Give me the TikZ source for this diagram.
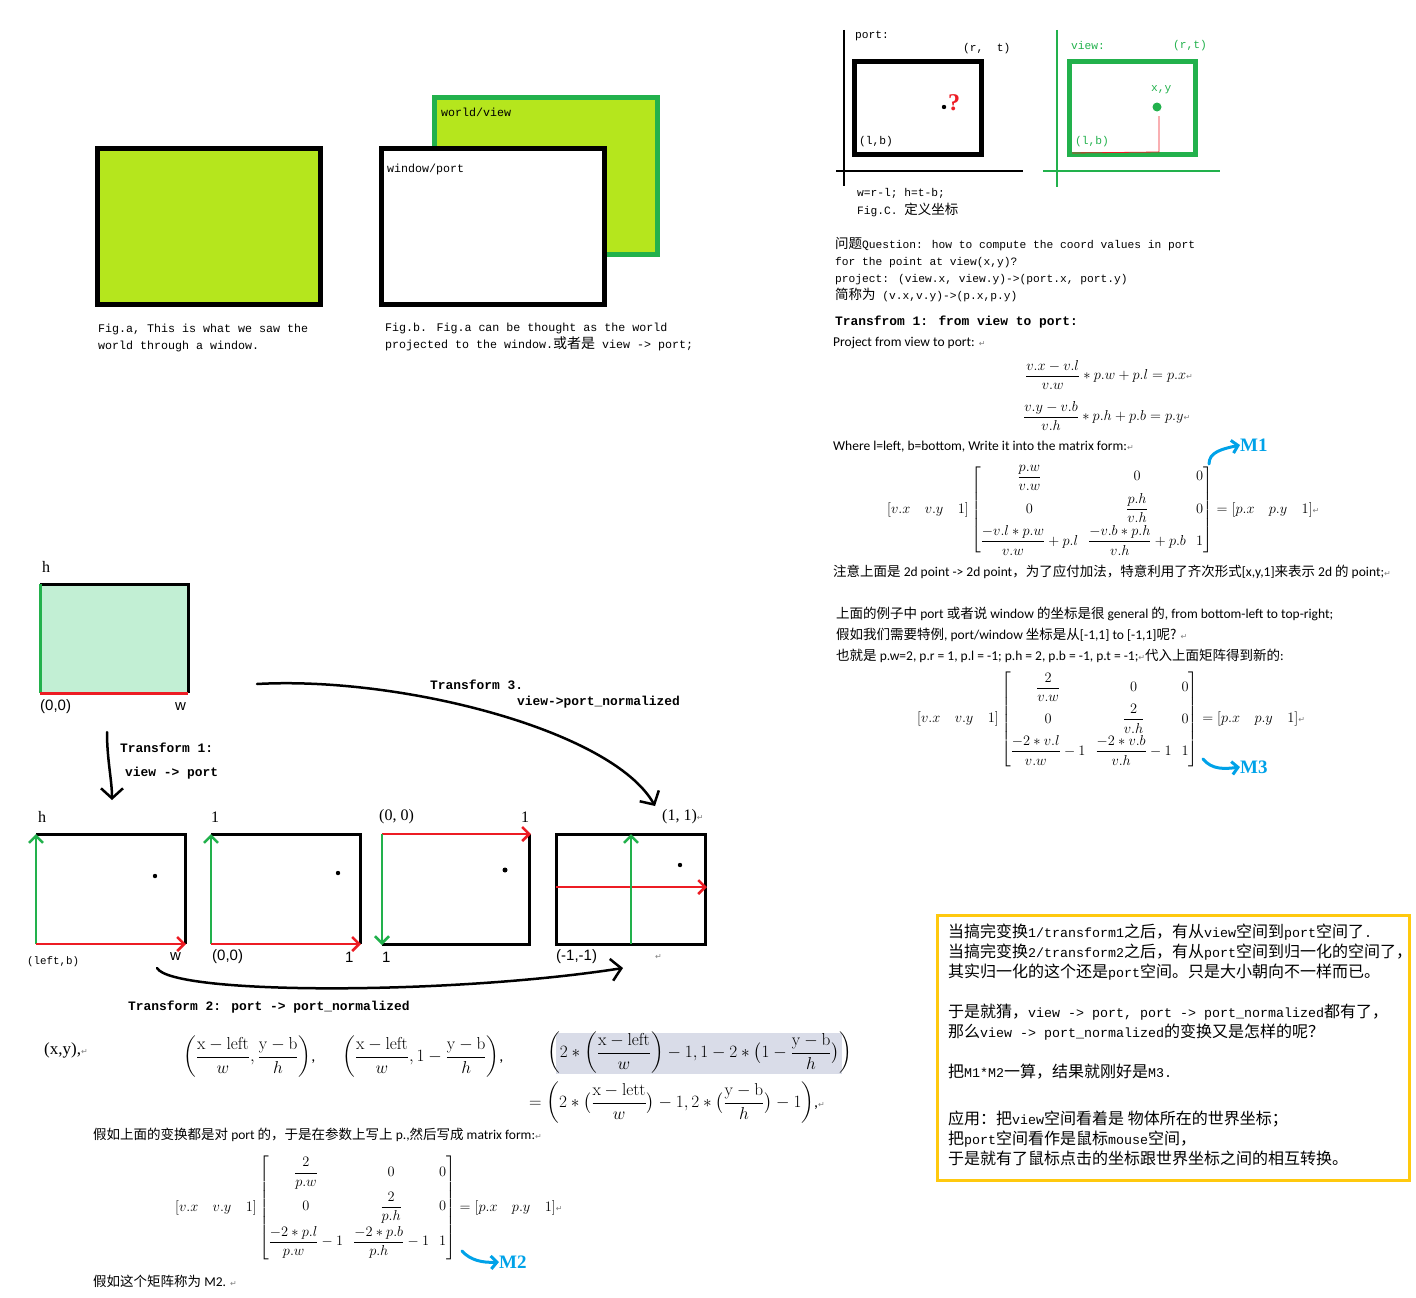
\documentclass[tikz,border=0pt]{standalone}
\usepackage{amsmath}
\usepackage[no-math]{fontspec}
\setmainfont{Carlito}
\newfontfamily\mono[Scale=0.833]{Liberation Mono}
\newfontfamily\zh{Noto Sans CJK SC}
\newfontfamily\arial{Liberation Sans}
\newfontfamily\serif{Liberation Serif}
\newfontfamily\sym{DejaVu Sans}
\usetikzlibrary{arrows.meta}
\definecolor{lime}{HTML}{B5E61D}
\definecolor{pgreen}{HTML}{22B14C}
\definecolor{pred}{HTML}{ED1C24}
\definecolor{pblue}{HTML}{00A2E8}
\definecolor{gold}{HTML}{FFC90E}
\definecolor{mint}{HTML}{C2EFD4}
\definecolor{hilite}{HTML}{D9DCE8}
\newcommand{\fs}[2]{\fontsize{#1}{#2}\selectfont}
\newcommand{\z}[1]{{\zh #1}}
\newcommand{\ret}{{\sym\color{gray}\fontsize{8}{8}\selectfont ↵}}
\newcommand{\rowgap}{\\\noalign{\vskip 2.5pt}}

\begin{document}
\begin{tikzpicture}[x=1pt,y=-1pt,
  txt/.style={inner sep=0pt,anchor=west},
  figcap/.style={txt,align=left,font=\mono\fs{14}{17}},
  codetxt/.style={txt,align=left,font=\mono\fs{13.5}{17}},
  bcodetxt/.style={txt,font=\mono\bfseries\fs{15.5}{17}},
  wordtxt/.style={txt,font=\fs{13.5}{16}},
  mathtxt/.style={txt,font=\fs{14.4}{14.4}},
  lbl/.style={txt,font=\serif\fs{16}{16}},
  slbl/.style={txt,font=\arial\fs{15}{15}},
  mlab/.style={txt,font=\serif\bfseries\fs{19}{19},text=pblue},
  thickrim/.style={line width=5pt},
  rim/.style={line width=3pt},
  dirarrow/.style={-{Straight Barb[length=7pt,width=14pt]},line width=2.5pt},
  handarrow/.style={-{Straight Barb[length=10pt,width=22pt]},line width=2.5pt,line cap=round},
  blueturn/.style={-{Straight Barb[length=6pt,width=13pt]},line width=3pt,pblue,line cap=round}]
\useasboundingbox(0,0)rectangle(1416,1298);

% Fig.a / Fig.b
\draw[thickrim,fill=lime](97,148)rectangle(320,304);
\draw[thickrim,draw=pgreen,fill=lime](434,97)rectangle(657,254);
\draw[thickrim,fill=white](381,148)rectangle(604,304);
\node[figcap](world)at(441,112){world/view};
\node[figcap](window)at(387,169){window/port};
\node[figcap](capa)at(98,338){Fig.a, This is what we saw the\\world through a window.};
\node[figcap](capb)at(385,337){Fig.b. Fig.a can be thought as the world\\projected to the window.\z{或者是} view -> port;};

% Fig.C port
\draw[line width=1.2pt](844,30)--(844,186);
\draw[line width=1.2pt](836,171)--(1023,171);
\draw[thickrim](854,62)rectangle(981,154);
\node[codetxt](porttl)at(855,36){port:};
\node[codetxt](prt)at(963,49){(r,\ \ t)};
\node[codetxt](plb)at(859,142){(l,b)};
\fill(944,107)circle(2.2);
\node[txt,text=pred,font=\serif\bfseries\fs{24}{24}](qm)at(948,103){?};
% Fig.C view
\draw[pgreen,line width=1.2pt](1057,30)--(1057,187);
\draw[pgreen,line width=1.2pt](1043,171)--(1220,171);
\draw[thickrim,draw=pgreen](1069,62)rectangle(1195,154);
\node[codetxt,text=pgreen](viewtl)at(1071,45){view:};
\node[codetxt,text=pgreen](vrt)at(1173,46){(r,t)};
\node[codetxt,text=pgreen](vxy)at(1151,90){x,y};
\fill[pgreen](1157,107)circle(4.5);
\draw[pred,line width=0.8pt](1159,116)--(1159,152)--(1072,153);
\node[codetxt,text=pgreen](vlb)at(1075,142){(l,b)};
\node[codetxt](wh)at(857,193){w=r-l; h=t-b;};
\node[codetxt](figc)at(857,210){Fig.C. \z{定义坐标}};

% question and transform 1
\node[codetxt](quest)at(835,270){\z{问题}Question: how to compute the coord values in port\\for the point at view(x,y)?\\project: (view.x, view.y)->(port.x, port.y)\\\z{简称为} (v.x,v.y)->(p.x,p.y)};
\node[bcodetxt](tr1)at(835,322){Transfrom 1: from view to port:};
\node[wordtxt](proj)at(833,343){Project from view to port: \ret};
\node[mathtxt](eqx)at(1025,375){$\dfrac{v.x-v.l}{v.w}\ast p.w+p.l=p.x$\ret};
\node[mathtxt](eqy)at(1023,416){$\dfrac{v.y-v.b}{v.h}\ast p.h+p.b=p.y$\ret};
\node[wordtxt](where)at(833,447){Where l=left, b=bottom, Write it into the matrix form:\ret};
\node[mathtxt](mone)at(887,510){$[v.x\quad v.y\quad 1]\begin{bmatrix}\dfrac{p.w}{v.w}&0&0\rowgap 0&\dfrac{p.h}{v.h}&0\rowgap\dfrac{-v.l\ast p.w}{v.w}+p.l&\dfrac{-v.b\ast p.h}{v.h}+p.b&1\end{bmatrix}=[p.x\quad p.y\quad 1]$\ret};
\coordinate(mtail)at(1209,464);
\node[mlab](lone)at(1240,445){M1};
\draw[blueturn](mtail)..controls(1209,452)and(1222,449)..(lone.west);

% notes and M3
\node[wordtxt](note)at(833,572){\z{注意上面是} 2d point -> 2d point\z{，为了应付加法，特意利用了齐次形式}[x,y,1]\z{来表示} 2d \z{的} point;\ret};
\node[wordtxt](gen)at(836,614){\z{上面的例子中} port \z{或者说} window \z{的坐标是很} general \z{的}, from bottom-left to top-right;};
\node[wordtxt](spec)at(836,635){\z{假如我们需要特例}, port/window \z{坐标是从}[-1,1] to [-1,1]\z{呢?} \ret};
\node[wordtxt](subst)at(836,656){\z{也就是} p.w=2, p.r = 1, p.l = -1; p.h = 2, p.b = -1, p.t = -1;\ret\z{代入上面矩阵得到新的}:};
\node[mathtxt](mthree)at(917,719){$[v.x\quad v.y\quad 1]\begin{bmatrix}\dfrac{2}{v.w}&0&0\rowgap 0&\dfrac{2}{v.h}&0\rowgap\dfrac{-2\ast v.l}{v.w}-1&\dfrac{-2\ast v.b}{v.h}-1&1\end{bmatrix}=[p.x\quad p.y\quad 1]$\ret};
\coordinate(ttail)at(1203,759);
\node[mlab](lthree)at(1240,767){M3};
\draw[blueturn](ttail)..controls(1212,770)and(1225,769)..(lthree.west);

% view square
\fill[mint](40,584)rectangle(188,693);
\draw[rim](40,584)--(188,584)--(188,693);
\draw[rim,pgreen](40,584)--(40,693);
\draw[rim,pred](40,693)--(188,693);
\node[lbl](vh)at(42,567){h};
\node[slbl](voo)at(40,707){(0,0)};
\node[slbl](vw)at(175,707){w};

% transform 1 and 3
\coordinate(aone)at(107,732);\coordinate(bone)at(112,800);
\draw[handarrow](aone)..controls(107,760)and(112,780)..(bone);
\node[bcodetxt](t1a)at(120,748){Transform 1:};
\node[bcodetxt](t1b)at(125,773){view -> port};
\coordinate(athree)at(257,684);\coordinate(bthree)at(655,806);
\draw[handarrow](athree)..controls(400,676)and(612,730)..(bthree);
\node[bcodetxt](t3a)at(430,685){Transform 3.};
\node[bcodetxt](t3b)at(517,702){view->port\_normalized};

% four port boxes
\draw[rim](36,834)--(185,834)--(185,944);
\draw[dirarrow,pgreen](36,944)--(36,834);
\draw[dirarrow,pred](36,944)--(186,944);
\fill(155,876)circle(2.2);
\draw[rim](211,834)--(360,834)--(360,944);
\draw[dirarrow,pgreen](211,944)--(211,834);
\draw[dirarrow,pred](211,944)--(361,944);
\fill(338,873)circle(2.2);
\draw[rim](382,944)--(529,944)--(529,834);
\draw[dirarrow,pred](382,834)--(531,834);
\draw[dirarrow,pgreen](382,834)--(382,945);
\fill(505,870)circle(2.5);
\draw[rim](556,834)rectangle(705,944);
\draw[dirarrow,pred](556,887)--(707,887);
\draw[dirarrow,pgreen](631,944)--(631,834);
\fill(680,865)circle(2.2);
\node[lbl](bh)at(38,817){h};
\node[lbl](bone1)at(211,817){1};
\node[lbl](boo)at(379,817){(0, 0)};
\node[lbl](bone2)at(521,817){1};
\node[lbl](bonep)at(662,817){(1, 1)\ret};
\node[txt,font=\mono\fs{13}{13}](blb)at(27,962){(left,b)};
\node[slbl](bw)at(170,957){w};
\node[slbl](boo2)at(212,957){(0,0)};
\node[slbl](bone3)at(345,957){1};
\node[slbl](bone4)at(382,957){1};
\node[slbl](bmm)at(556,957){(-1,-1)};
\node[txt](bret)at(655,957){\ret};
\coordinate(atwo)at(157,968);\coordinate(btwo)at(623,968);
\draw[handarrow](atwo)..controls(172,995)and(450,995)..(btwo);
\node[bcodetxt](t2)at(128,1007){Transform 2: port -> port\_normalized};

% formulas
\fill[hilite](556,1033)rectangle(842,1074);
\node[txt,font=\serif\fs{17}{17}](pxy)at(44,1050){(x,y),\ret};
\node[mathtxt,font=\fs{16}{16}](fa)at(183,1057){$\left(\dfrac{\mathrm{x-left}}{w},\dfrac{\mathrm{y-b}}{h}\right)$,};
\node[mathtxt,font=\fs{16}{16}](fb)at(342,1057){$\left(\dfrac{\mathrm{x-left}}{w},1-\dfrac{\mathrm{y-b}}{h}\right)$,};
\node[mathtxt,font=\fs{16}{16}](fc)at(547,1053){$\left(2\ast\left(\dfrac{\mathrm{x-left}}{w}\right)-1,1-2\ast\bigl(1-\dfrac{\mathrm{y-b}}{h}\bigr)\right)$};
\node[mathtxt,font=\fs{16}{16}](fd)at(529,1103){$=\left(2\ast\bigl(\dfrac{\mathrm{x-lett}}{w}\bigr)-1,2\ast\bigl(\dfrac{\mathrm{y-b}}{h}\bigr)-1\right)$,\ret};

% M2
\node[wordtxt](pform)at(93,1135){\z{假如上面的变换都是对} port \z{的，于是在参数上写上} p.,\z{然后写成} matrix form:\ret};
\node[mathtxt](mtwo)at(175,1208){$[v.x\quad v.y\quad 1]\begin{bmatrix}\dfrac{2}{p.w}&0&0\rowgap 0&\dfrac{2}{p.h}&0\rowgap\dfrac{-2\ast p.l}{p.w}-1&\dfrac{-2\ast p.b}{p.h}-1&1\end{bmatrix}=[p.x\quad p.y\quad 1]$\ret};
\coordinate(wtail)at(462,1251);
\node[mlab](ltwo)at(499,1262){M2};
\draw[blueturn](wtail)..controls(470,1260)and(482,1263)..(ltwo.west);
\node[wordtxt](callm)at(93,1281){\z{假如这个矩阵称为} M2. \ret};

% yellow note
\draw[gold,line width=3pt](937,915)rectangle(1409,1180);
\node[txt,align=left,anchor=north west,font=\mono\fs{16}{20}](yel)at(948,924){%
\z{当搞完变换}1/transform1\z{之后，有从}view\z{空间到}port\z{空间了}.\\
\z{当搞完变换}2/transform2\z{之后，有从}port\z{空间到归一化的空间了，}\\
\z{其实归一化的这个还是}port\z{空间。只是大小朝向不一样而已。}\\[20pt]
\z{于是就猜，}view -> port, port -> port\_normalized\z{都有了，}\\
\z{那么}view -> port\_normalized\z{的变换又是怎样的呢？}\\[20pt]
\z{把}M1*M2\z{一算，结果就刚好是}M3.\\[27pt]
\z{应用：把}view\z{空间看着是 物体所在的世界坐标；}\\
\z{把}port\z{空间看作是鼠标}mouse\z{空间，}\\
\z{于是就有了鼠标点击的坐标跟世界坐标之间的相互转换。}};
\end{tikzpicture}
\end{document}
